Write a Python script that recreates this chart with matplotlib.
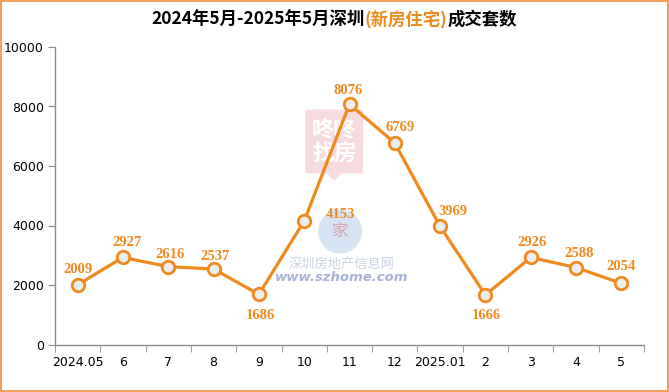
import matplotlib
matplotlib.use("Agg")
import matplotlib.pyplot as plt
from matplotlib.offsetbox import TextArea, HPacker, AnnotationBbox
from matplotlib.patches import FancyBboxPatch, Ellipse, Polygon

plt.rcParams['font.family'] = ['DejaVu Sans', 'Noto Sans CJK SC']

categories = ['2024.05', '6', '7', '8', '9', '10', '11', '12', '2025.01', '2', '3', '4', '5']
values = [2009, 2927, 2616, 2537, 1686, 4153, 8076, 6769, 3969, 1666, 2926, 2588, 2054]
# label offsets in points (dx, dy)
label_offsets = [(0, 11), (3, 11), (1, 9), (1, 9), (1, -15), (26, 5), (-1, 10), (4, 11), (9, 11), (1, -15), (1, 11), (2, 10), (0, 12)]

orange = '#F08A1F'
gray = '#8C8C8C'

fig = plt.figure(figsize=(6.69, 3.92), dpi=100)
fig.patch.set_facecolor('white')
fig.patch.set_edgecolor('#F0A060')
fig.patch.set_linewidth(1.5)

ax = fig.add_axes([55/669, 1-344.5/392, (644-55)/669, (344.5-47)/392])
x = list(range(len(categories)))

# faint watermarks
wm = FancyBboxPatch((0.425, 0.575), 0.098, 0.215, boxstyle='round,pad=0.0,rounding_size=0.005',
                    transform=ax.transAxes, facecolor='#F2C4C8', edgecolor='none', alpha=0.6, zorder=0)
ax.add_patch(wm)
ax.add_patch(Polygon([[0.462, 0.575], [0.486, 0.575], [0.474, 0.55]], closed=True, transform=ax.transAxes,
                     facecolor='#F2C4C8', edgecolor='none', alpha=0.6, zorder=0))
ax.text(0.474, 0.683, '咚咚\n找房', transform=ax.transAxes, ha='center', va='center',
        fontsize=16, color='white', family=['Noto Sans CJK SC'], fontweight='bold', zorder=0, linespacing=1.0)
ax.add_patch(Ellipse((0.484, 0.38), 44/589, 44/297.5, transform=ax.transAxes, facecolor='#BCD2EC',
                     edgecolor='none', alpha=0.6, zorder=0))
ax.text(0.484, 0.38, '家', transform=ax.transAxes, ha='center', va='center', fontsize=12,
        color='#D87A8A', family=['Noto Sans CJK SC'], alpha=0.6, zorder=0)
ax.text(0.486, 0.27, '深圳房地产信息网', transform=ax.transAxes, ha='center', va='center',
        fontsize=9.5, color='#C8D4E4', family=['Noto Sans CJK SC'], style='italic', zorder=0)
ax.text(0.486, 0.225, 'www.szhome.com', transform=ax.transAxes, ha='center', va='center',
        fontsize=9.5, color='#A8B4D8', fontweight='bold', style='italic', zorder=0)

ax.plot(x, values, color=orange, lw=2.3, zorder=3,
        marker='o', markersize=9, markerfacecolor='#EDEDED', markeredgecolor=orange, markeredgewidth=2)

for xi, v, (dx, dy) in zip(x, values, label_offsets):
    ax.annotate(str(v), (xi, v), xytext=(dx, dy), textcoords='offset points',
                ha='center', va='center', color=orange, fontsize=10.5, fontweight='bold',
                family=['Liberation Serif', 'DejaVu Serif'], zorder=4)

ax.set_xlim(-0.5, len(categories) - 0.5)
ax.set_ylim(0, 10000)
ax.set_yticks(range(0, 10001, 2000))
ax.set_xticks(x)
ax.set_xticklabels(categories)
ax.set_xticks([i - 0.5 for i in range(len(categories) + 1)], minor=True)
ax.tick_params(axis='x', which='major', length=0, pad=8, labelsize=9, colors='black')
ax.tick_params(axis='x', which='minor', length=5, color=gray, direction='out')
ax.tick_params(axis='y', length=5, color=gray, labelsize=9, pad=3)
for s in ['top', 'right']:
    ax.spines[s].set_visible(False)
for s in ['left', 'bottom']:
    ax.spines[s].set_color(gray)
    ax.spines[s].set_linewidth(1)

# title with mixed colours
tfont = dict(fontsize=12.5, fontweight='bold', family=['Noto Sans CJK SC'])
parts = [TextArea('2024年5月-2025年5月深圳', textprops=dict(color='black', **tfont)),
         TextArea('(新房住宅)', textprops=dict(color=orange, **tfont)),
         TextArea('成交套数', textprops=dict(color='black', **tfont))]
box = HPacker(children=parts, align='center', pad=0, sep=0)
ab = AnnotationBbox(box, (0.5, 1 - 20/392), xycoords='figure fraction', frameon=False, box_alignment=(0.5, 0.5))
fig.add_artist(ab)

fig.savefig('out.png', dpi=100, facecolor=fig.get_facecolor(), edgecolor=fig.get_edgecolor())
